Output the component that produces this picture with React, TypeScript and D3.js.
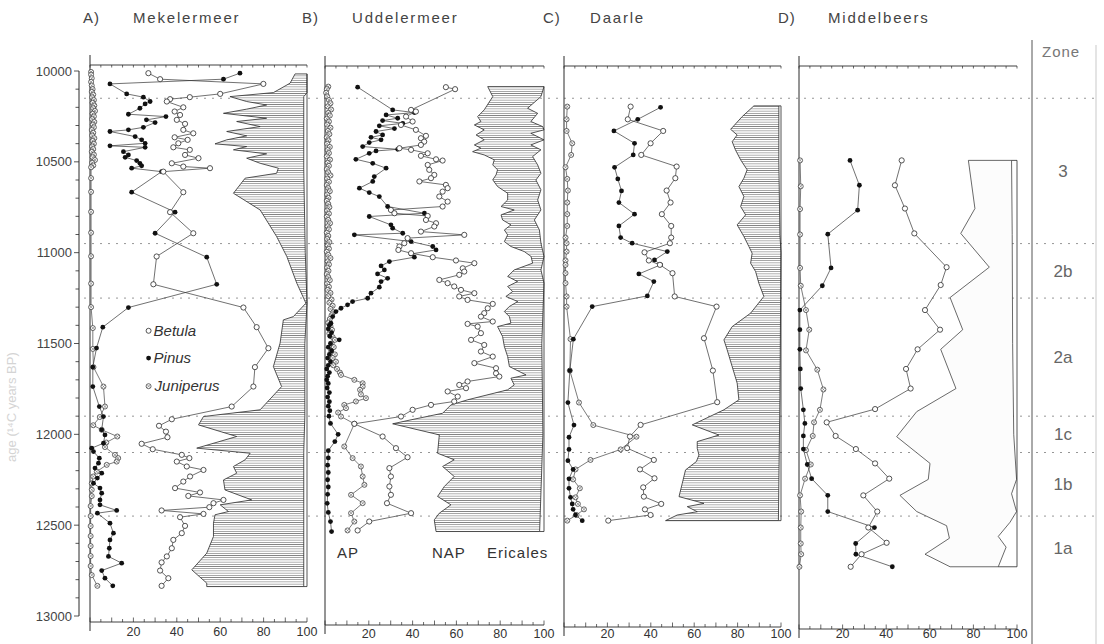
import React from 'react';
import * as d3 from 'd3';

type Pt = [number, number]; // [age 14C yr BP, percent]

const ageTicks = [10000, 10500, 11000, 11500, 12000, 12500, 13000];
const pctLabels = [20, 40, 60, 80, 100];
const zoneBounds = [10150, 10950, 11250, 11900, 12100, 12450, 12800];
const zoneNames = ['3', '2b', '2a', '1c', '1b', '1a'];

// A) Mekelermeer
const mekBetula: Pt[] = [[10012,26.9],[10045,32.3],[10071,79.9],[10126,60],[10144,46],[10155,36.9],[10168,35.4],[10200,43],[10223,39],[10242,41.5],[10269,40],[10291,43.8],[10324,43],[10343,47.6],[10365,39],[10379,45],[10398,40.7],[10420,38.4],[10434,46],[10462,43.8],[10480,50],[10508,37.7],[10526,43],[10535,55.3],[10554,33.8],[10667,43],[10777,36.9],[10893,47.6],[11021,30.7],[11174,29.2],[11302,70.7],[11410,76.8],[11526,82.2],[11630,76],[11737,75.3],[11847,65.3],[11917,37.7],[11953,31.8],[11985,35],[12016,35.7],[12052,23.8],[12082,28.9],[12113,42.3],[12131,45.8],[12150,40],[12177,44.6],[12196,52.3],[12232,46.1],[12260,43],[12296,39.2],[12320,50.7],[12339,45.3],[12361,61.5],[12379,56.9],[12401,55],[12419,33],[12438,52.3],[12456,41.5],[12504,43.8],[12544,42.3],[12581,38.4],[12627,37.7],[12672,35.4],[12705,33],[12750,32.3],[12792,36.1],[12834,33]];
const mekPinus: Pt[] = [[10012,69.1],[10045,61.5],[10071,9.2],[10126,16.9],[10144,24.6],[10168,27.7],[10181,25.4],[10205,23],[10238,17.7],[10251,35],[10269,26],[10284,30],[10310,24.6],[10324,17.7],[10333,9.2],[10361,20.8],[10379,23.8],[10398,25.4],[10412,9.2],[10420,25.4],[10444,15.4],[10462,17.7],[10475,16.2],[10493,21.5],[10508,23],[10522,23.8],[10535,19.2],[10554,33],[10667,19.2],[10777,39.2],[10893,30],[11025,53.8],[11174,58.4],[11302,17.7],[11410,5.9],[11525,3],[11630,1.3],[11737,1.3],[11847,4.3],[11902,6.2],[11975,5.4],[12003,6.9],[12049,6.2],[12076,0.8],[12095,1.6],[12131,4.3],[12159,3.9],[12186,2.3],[12214,5.4],[12241,3.4],[12269,1.6],[12296,4.6],[12324,5.4],[12361,4.6],[12388,4.6],[12419,12.3],[12434,3.4],[12489,9.2],[12544,10.8],[12581,9.2],[12627,8.9],[12672,8.5],[12709,14.6],[12750,5.4],[12792,6.9],[12834,10.5]];
const mekJuniperus: Pt[] = [[10005,0.5],[10020,0.5],[10040,0.8],[10060,0.5],[10080,0.8],[10100,1.2],[10115,0.8],[10130,1.5],[10145,1],[10160,1.8],[10175,1.2],[10190,2],[10205,1.5],[10220,2.3],[10235,1.2],[10250,1.8],[10265,1],[10280,2],[10295,1.3],[10310,1.8],[10325,0.8],[10340,1.5],[10355,1],[10370,2],[10385,1.2],[10400,1.8],[10415,1],[10430,1.5],[10445,0.8],[10460,1.8],[10475,1.2],[10490,2.3],[10505,1],[10520,1.5],[10530,0.5],[10590,0.5],[10665,0.5],[10775,0.5],[10890,0.5],[11020,0.5],[11170,0.5],[11300,0.5],[11415,1.3],[11530,1.3],[11630,1.6],[11737,6.2],[11847,6.9],[11905,4.5],[11950,1.5],[11975,5.4],[12012,12.6],[12045,7.5],[12070,6.9],[12113,11.5],[12131,13],[12150,12.3],[12168,7.7],[12205,3.1],[12232,1.5],[12270,0.8],[12305,0.8],[12340,0.8],[12395,0.3],[12450,0.3],[12505,0.3],[12560,0.3],[12615,0.3],[12670,0.3],[12725,0.3],[12775,0.8],[12834,3.4]];
const mekAP: Pt[] = [[10016,94.5],[10067,92.2],[10119,84.5],[10141,64.5],[10168,72.2],[10187,81.4],[10210,72.2],[10233,61.5],[10260,81.4],[10278,67.6],[10306,78.4],[10333,63],[10357,72.2],[10379,63],[10401,57.6],[10416,72.2],[10434,66.1],[10456,81.4],[10480,72.2],[10508,78.4],[10535,86.8],[10563,86],[10590,71.5],[10673,66.1],[10765,78.4],[10911,86],[11021,90.7],[11168,95.3],[11278,99.5],[11352,93.7],[11370,89.1],[11498,87.6],[11627,84.5],[11737,88.3],[11865,78.4],[11902,52.3],[11948,50],[12012,67.6],[12076,49.2],[12104,73.8],[12140,71.5],[12177,66.1],[12214,67.6],[12251,61.5],[12306,62.2],[12361,74.5],[12388,60],[12425,63.8],[12443,57.6],[12489,56.9],[12562,56.9],[12654,53.8],[12746,46.9],[12819,53.8],[12838,53.8]];
const mekEricales: Pt[] = [[10016,100],[10120,100],[10141,98.5],[10540,98.5],[11000,99.2],[11278,100],[11500,99],[11900,99],[12100,98.5],[12500,98.5],[12838,98.5]];

// B) Uddelermeer
const udBetula: Pt[] = [[10089,55.2],[10100,59.4],[10214,39.3],[10223,41.5],[10251,37],[10278,40],[10297,34.7],[10324,41.5],[10357,46.1],[10370,43.8],[10389,45.3],[10407,43.8],[10425,34],[10434,39.3],[10453,46.9],[10467,43.8],[10486,50.7],[10493,53.7],[10517,46.9],[10544,47.6],[10572,49.9],[10590,48.4],[10608,43.1],[10627,55.2],[10645,56],[10664,53.7],[10691,52.2],[10719,56],[10746,53.7],[10765,30.1],[10783,31.7],[10798,46.9],[10820,46.1],[10838,50.7],[10856,49.9],[10884,43.8],[10902,63.6],[10920,37.7],[10948,36.2],[10966,34],[10985,33.5],[11003,39.3],[11025,49.2],[11043,59.8],[11058,68.2],[11086,62.9],[11104,63.6],[11122,61.3],[11150,52.2],[11168,56],[11186,59],[11205,62.1],[11223,68.2],[11241,61.3],[11260,65.1],[11282,76.6],[11306,74.3],[11333,72.7],[11352,71.2],[11379,76.6],[11392,65.1],[11407,69.7],[11443,71.2],[11480,66.7],[11508,72.7],[11544,71.2],[11572,76.6],[11608,68.2],[11636,78.1],[11664,78.1],[11682,79.6],[11709,65.1],[11728,61.3],[11746,64.4],[11764,56],[11792,60.6],[11819,59],[11838,48.4],[11865,40],[11902,34.7],[11942,13.4],[12012,26.3],[12076,32.4],[12126,37.7],[12186,29.4],[12232,30.1],[12287,29.4],[12333,30.1],[12379,28.3],[12434,39.3],[12480,20.2],[12529,14.9]];
const udPinus: Pt[] = [[10089,14.9],[10214,30.9],[10229,40.8],[10242,27.9],[10260,33.2],[10273,26.3],[10288,35.5],[10302,24.8],[10317,31.7],[10333,23.3],[10352,26.3],[10365,21],[10379,25.6],[10394,20.2],[10416,17.2],[10431,33.2],[10440,23.3],[10453,20.2],[10486,14.1],[10508,21.8],[10535,27.9],[10581,22.5],[10608,21.8],[10645,15.7],[10669,20.2],[10691,24.8],[10746,28.6],[10783,45.4],[10801,20.2],[10847,30.1],[10865,30.9],[10893,35.5],[10902,13.4],[10939,39.3],[10966,49.2],[10985,50.7],[11007,39.3],[11025,40.8],[11049,29.4],[11073,25.6],[11095,27.1],[11117,24],[11141,28.6],[11159,25.6],[11190,24.8],[11223,21],[11251,19.5],[11269,12.6],[11287,10.3],[11306,7.3],[11324,5],[11352,3.5],[11388,2.7],[11400,2],[11420,1.5],[11440,3],[11460,2.2],[11480,6.5],[11500,2.5],[11520,1.5],[11540,3],[11560,2],[11580,1.2],[11600,2.5],[11620,1.5],[11640,0.8],[11660,2],[11680,1.2],[11700,0.8],[11720,1.5],[11745,1],[11770,2],[11795,1.2],[11820,2],[11845,1.5],[11870,2.2],[11900,1.8],[11940,2.5],[12000,6],[12040,4.5],[12090,1.5],[12130,1.5],[12170,1.2],[12210,1.5],[12250,1.2],[12290,1.5],[12330,1.2],[12380,1],[12430,1.5],[12480,2.5],[12535,3]];
const udJuniperus: Pt[] = [[10086,1.5],[10100,0.8],[10120,0.5],[10140,1],[10160,1.8],[10178,2.5],[10195,1.2],[10212,2.8],[10230,1.5],[10245,2.2],[10262,0.8],[10278,1.8],[10295,1],[10312,2.5],[10330,1.3],[10348,2],[10365,0.8],[10382,1.6],[10400,1],[10418,2.2],[10435,1.2],[10452,1.8],[10470,0.8],[10488,2.3],[10505,1.2],[10522,1.8],[10540,0.8],[10558,1.5],[10575,2.5],[10592,1],[10610,1.8],[10628,0.8],[10645,1.5],[10662,2.2],[10680,1],[10698,1.6],[10715,0.8],[10732,1.5],[10750,2],[10768,1],[10785,1.8],[10802,0.8],[10820,1.5],[10838,2.3],[10855,1.2],[10872,1.8],[10890,0.8],[10908,1.5],[10925,1],[10942,2],[10960,1.2],[10978,1.8],[10995,0.8],[11012,1.5],[11030,2.5],[11048,1.2],[11065,1.8],[11082,1],[11100,1.6],[11118,0.8],[11135,1.5],[11152,2.2],[11170,1],[11188,1.8],[11205,1.2],[11222,2.5],[11240,1.5],[11258,3],[11275,2],[11292,3.5],[11310,2.5],[11328,3.8],[11345,3],[11365,2.2],[11385,1.5],[11405,2.5],[11425,3.2],[11445,2],[11465,3.5],[11480,4.5],[11500,3],[11520,4],[11540,2.8],[11560,4.5],[11580,3.5],[11600,5],[11620,3.8],[11640,5.5],[11660,6.8],[11673,7.3],[11700,13.4],[11719,17.2],[11737,17.2],[11755,16],[11780,16.4],[11801,18.7],[11819,14.1],[11838,8.8],[11856,9.6],[11880,6],[11902,7.3],[11942,13.4],[12067,8.8],[12131,12.6],[12177,16.4],[12232,17.2],[12278,18],[12333,11.9],[12379,17.2],[12434,11.9],[12480,13.4],[12529,10.3]];
const udAP: Pt[] = [[10086,74.3],[10141,76.6],[10214,72.7],[10251,69.7],[10278,71.2],[10297,68.2],[10324,72.7],[10352,69],[10379,72.7],[10407,68.2],[10425,71.2],[10444,67.4],[10462,72.7],[10489,77.3],[10517,76.6],[10544,78.8],[10572,78.1],[10599,76.6],[10636,78.8],[10673,83.4],[10710,83.4],[10746,80.4],[10765,86.4],[10792,80.4],[10820,81.1],[10847,84.9],[10875,81.9],[10902,83.4],[10939,81.9],[10966,84.9],[10994,91],[11021,94.1],[11058,94.8],[11095,86.4],[11131,83.4],[11159,87.9],[11186,83.4],[11214,85.7],[11241,82.6],[11269,88],[11296,84.2],[11324,81.9],[11352,84.2],[11388,84.9],[11407,78.8],[11462,81.1],[11517,81.9],[11572,83.4],[11627,84.2],[11673,91.8],[11691,84.9],[11728,86.4],[11755,83.4],[11810,65.1],[11838,57.5],[11884,53.7],[11920,39.3],[11942,30.9],[12003,52.2],[12104,51.4],[12140,59],[12177,53.7],[12232,59],[12287,54.5],[12342,51.4],[12388,57.5],[12434,52.2],[12471,49.9],[12535,50.7]];
const udEricales: Pt[] = [[10086,100],[10141,98.6],[10205,92.5],[10233,97.1],[10278,94],[10306,99.4],[10324,100],[10343,94],[10379,100],[10407,94],[10434,98.6],[10471,94.8],[10517,97.1],[10563,98.6],[10600,96.3],[10654,98.6],[10710,97.1],[10765,98.6],[10820,95.6],[10875,97.9],[10948,98.6],[11021,100],[11095,98.6],[11168,100],[11500,99],[12000,99.5],[12535,98]];

// C) Daarle
const daBetula: Pt[] = [[10196,30.7],[10266,29.4],[10330,45.7],[10398,39.9],[10462,35.6],[10526,51.9],[10590,51.3],[10658,47.3],[10724,49.1],[10788,45.1],[10853,49.4],[10917,49.4],[10948,48.8],[10998,37.1],[11043,39.1],[11067,44.2],[11113,50],[11241,51],[11297,70.3],[11471,64.5],[11649,68.6],[11823,70.6],[11948,35.3],[12012,30.4],[12076,29.1],[12141,41.4],[12193,35],[12242,41.7],[12292,36.5],[12343,36.8],[12383,44.8],[12413,37.3],[12444,39.9],[12475,20.4]];
const daPinus: Pt[] = [[10200,44.5],[10266,34],[10330,23],[10398,32.5],[10462,31.9],[10530,23.3],[10594,24.8],[10660,26.5],[10724,25.3],[10788,32.5],[10853,25.3],[10917,26.1],[10948,31.4],[10994,47.6],[11040,41.7],[11067,44.5],[11117,34.5],[11159,41.4],[11238,38.4],[11297,13],[11476,4.3],[11649,2.7],[11825,1.8],[11949,4.6],[12016,2.3],[12083,2.3],[12145,1.8],[12193,4.2],[12245,2.3],[12297,2.3],[12347,3],[12383,3.8],[12413,4.2],[12444,5.3],[12475,8.4]];
const daJuniperus: Pt[] = [[10196,1.5],[10266,1.2],[10330,1.2],[10398,3.8],[10462,3.3],[10530,0.7],[10594,1.5],[10658,1.8],[10724,1.5],[10788,1.5],[10853,1.5],[10917,0.7],[10948,1.2],[10994,1.2],[11043,0.7],[11067,0.7],[11113,0.7],[11168,0.7],[11241,1.2],[11297,1.2],[11476,3],[11649,2.7],[11825,6.9],[11949,13.5],[12013,33.4],[12083,26.1],[12141,12.2],[12193,5.3],[12248,4.2],[12297,7.3],[12347,5.3],[12383,6.4],[12413,9.2],[12444,5.8],[12475,1.5]];
const daAP: Pt[] = [[10192,87.5],[10251,82.1],[10321,76.8],[10352,79.8],[10389,77.5],[10434,79],[10489,81.4],[10544,84.4],[10590,82.9],[10636,80.6],[10691,82.9],[10746,81.4],[10792,83.7],[10847,79.8],[10911,82.9],[10966,85.2],[11003,86.7],[11058,86],[11104,88.3],[11168,89.8],[11241,92.1],[11333,86],[11407,77.5],[11480,73.7],[11535,75.2],[11627,77.5],[11718,79.8],[11810,80.6],[11865,73.7],[11948,59.1],[12004,71.4],[12040,61.4],[12077,61.4],[12114,62.2],[12150,61],[12196,56],[12270,54.5],[12343,53],[12380,64.5],[12398,56.8],[12426,61.4],[12444,52.2],[12475,46.8]];
const daEricales: Pt[] = [[10192,99],[10500,99],[10900,99.5],[11000,100],[11800,99.5],[12475,98.8]];

// D) Middelbeers
const miBetula: Pt[] = [[10492,47.1],[10629,44],[10757,48.6],[10894,52.9],[11080,67.7],[11178,65],[11316,57.8],[11424,64.7],[11532,54.4],[11640,49.1],[11748,51.2],[11861,34.9],[11934,12.7],[12009,16.8],[12081,26.1],[12160,34.9],[12244,41.4],[12336,29.5],[12425,35.9],[12513,31.8],[12597,40.2],[12660,28.7],[12729,23.7]];
const miPinus: Pt[] = [[10492,23.4],[10629,27.7],[10766,26.9],[10898,13.2],[11084,14.7],[11182,10.7],[11316,0.4],[11424,0.4],[11532,0.4],[11640,0.6],[11748,0.8],[11865,2],[11940,2.7],[12009,2],[12081,2],[12166,3.8],[12244,5.8],[12336,13.2],[12425,13.2],[12513,34.6],[12601,26],[12660,26.1],[12729,42.8]];
const miJuniperus: Pt[] = [[10492,0.5],[10635,0.8],[10760,0.5],[10900,0.5],[11084,0.5],[11182,0.8],[11316,3.2],[11424,4.7],[11538,3.2],[11644,8.4],[11753,11.2],[11865,9.6],[11934,6.9],[12009,6.3],[12087,3.2],[12166,5.4],[12244,2.8],[12336,0.5],[12425,1],[12513,0.8],[12601,0.8],[12660,1],[12729,0.2]];
const miAP: Pt[] = [[10492,77.7],[10757,80.7],[10894,74.2],[11080,87.3],[11247,69.3],[11424,75.1],[11532,65],[11748,72],[11875,54],[12013,44.8],[12160,60.1],[12248,59.3],[12336,46.3],[12425,54],[12503,67.7],[12572,69],[12660,57.8],[12729,69.3]];
const miEricales: Pt[] = [[10492,97.5],[10900,97.8],[11500,98],[12000,98.5],[12248,99.8],[12327,97.5],[12425,99.8],[12484,96.8],[12562,91.4],[12621,95],[12729,91.4]];

const panels = [
  { letter: 'A)', name: 'Mekelermeer', lx: 83, nx: 133, x0: 90, x1: 307, top: 65, bottom: 622, hatch: true,
    betula: mekBetula, pinus: mekPinus, juniperus: mekJuniperus, ap: mekAP, eric: mekEricales },
  { letter: 'B)', name: 'Uddelermeer', lx: 302, nx: 352, x0: 325, x1: 544, top: 66, bottom: 625, hatch: true,
    betula: udBetula, pinus: udPinus, juniperus: udJuniperus, ap: udAP, eric: udEricales },
  { letter: 'C)', name: 'Daarle', lx: 543, nx: 590, x0: 564, x1: 781, top: 66, bottom: 627, hatch: true,
    betula: daBetula, pinus: daPinus, juniperus: daJuniperus, ap: daAP, eric: daEricales },
  { letter: 'D)', name: 'Middelbeers', lx: 778, nx: 828, x0: 799, x1: 1017, top: 66, bottom: 629, hatch: false,
    betula: miBetula, pinus: miPinus, juniperus: miJuniperus, ap: miAP, eric: miEricales },
];

const font = '"Liberation Sans", Arial, sans-serif';
const ink = '#2a2a2a';

const y = d3.scaleLinear().domain([10000, 13000]).range([71, 616]);

function Juni({ cx, cy }: { cx: number; cy: number }) {
  const r = 2.5, k = 1.6;
  return (
    <g>
      <circle cx={cx} cy={cy} r={r} fill="#fff" stroke={ink} strokeWidth={0.7} />
      <path d={`M${cx - k},${cy - k}L${cx + k},${cy + k}M${cx - k},${cy + k}L${cx + k},${cy - k}`} stroke="#666" strokeWidth={0.6} />
    </g>
  );
}

function Panel({ p }: { p: typeof panels[number] }) {
  const x = d3.scaleLinear().domain([0, 100]).range([p.x0, p.x1]);
  const line = d3.line<Pt>().x(d => x(d[1])).y(d => y(d[0]));
  const poly = line([...p.ap, ...[...p.eric].reverse()]) + 'Z';
  const topAge = p.ap[0][0];
  const botAge = p.ap[p.ap.length - 1][0];
  const edge = `M${x(p.eric[0][1])},${y(topAge)}H${x(100)}V${y(botAge)}H${x(p.eric[p.eric.length - 1][1])}`;
  const ticks = d3.range(0, 101, 5);
  return (
    <g>
      <text x={p.lx} y={23} fontSize={15} fill="#444" fontFamily={font} letterSpacing={1}>{p.letter}</text>
      <text x={p.nx} y={23} fontSize={15} fill="#444" fontFamily={font} letterSpacing={1.8}>{p.name}</text>
      {/* left vertical axis */}
      <line x1={x(0)} x2={x(0)} y1={p.top - 10} y2={p.bottom + 9} stroke={ink} strokeWidth={1} />
      {/* top axis */}
      <line x1={x(0)} x2={x(100)} y1={p.top} y2={p.top} stroke={ink} strokeWidth={0.9} />
      {ticks.map(t => (
        <line key={'t' + t} x1={x(t)} x2={x(t)} y1={p.top} y2={p.top + 2.5} stroke={ink} strokeWidth={0.7} />
      ))}
      {/* bottom axis */}
      <line x1={x(0)} x2={x(100)} y1={p.bottom} y2={p.bottom} stroke={ink} strokeWidth={0.9} />
      {ticks.map(t => (
        <line key={'b' + t} x1={x(t)} x2={x(t)} y1={p.bottom} y2={p.bottom - (t % 10 === 0 ? 4.5 : 3)} stroke={ink} strokeWidth={0.7} />
      ))}
      {pctLabels.map(t => (
        <text key={'l' + t} x={x(t)} y={Math.min(p.bottom + 14, 638)} fontSize={12.5} fill="#333" fontFamily={font} textAnchor="middle">{t}</text>
      ))}
      {/* NAP / Ericales area */}
      <path d={poly} fill={p.hatch ? 'url(#hatch)' : '#fcfcfc'} stroke={ink} strokeWidth={p.hatch ? 0.8 : 0.7} />
      <path d={edge} fill="none" stroke={ink} strokeWidth={0.8} />
      {/* curves */}
      <path d={line(p.juniperus) || ''} fill="none" stroke="#444" strokeWidth={0.7} />
      <path d={line(p.pinus) || ''} fill="none" stroke="#333" strokeWidth={0.7} />
      <path d={line(p.betula) || ''} fill="none" stroke="#333" strokeWidth={0.7} />
      {p.juniperus.map((d, i) => <Juni key={'j' + i} cx={x(d[1])} cy={y(d[0])} />)}
      {p.pinus.map((d, i) => <circle key={'p' + i} cx={x(d[1])} cy={y(d[0])} r={2.4} fill="#111" />)}
      {p.betula.map((d, i) => (
        <circle key={'o' + i} cx={x(d[1])} cy={y(d[0])} r={2.6} fill="#fff" stroke={ink} strokeWidth={0.8} />
      ))}
    </g>
  );
}

export default function App() {
  const minor = d3.range(10000, 13001, 100);
  const zoneMid = zoneNames.map((z, i) => ({ z, age: (zoneBounds[i] + zoneBounds[i + 1]) / 2 }));
  const legendX = d3.scaleLinear().domain([0, 100]).range([90, 307])(27);
  return (
    <div style={{ position: 'fixed', left: 0, top: 0 }}>
      <svg width={1104} height={644} style={{ display: 'block', background: '#fff' }}>
        <defs>
          <pattern id="hatch" width={4} height={2.2} patternUnits="userSpaceOnUse">
            <rect width={4} height={2.2} fill="#fff" />
            <line x1={0} x2={4} y1={1.1} y2={1.1} stroke="#6a6a6a" strokeWidth={0.7} />
          </pattern>
        </defs>

        {/* age axis */}
        <text transform={`translate(16,${y(11850)}) rotate(-90)`} fontSize={13} fill="#d4d4d4" fontFamily={font} textAnchor="middle">age (¹⁴C years BP)</text>
        <line x1={79} x2={79} y1={y(10000)} y2={y(13000)} stroke={ink} strokeWidth={1} />
        {minor.map(a => (
          <line key={a} x1={79} x2={a % 500 === 0 ? 74 : 75.5} y1={y(a)} y2={y(a)} stroke={ink} strokeWidth={0.8} />
        ))}
        {ageTicks.map(a => (
          <text key={a} x={72} y={y(a) + 4.5} fontSize={13} fill="#444" fontFamily={font} textAnchor="end">{a}</text>
        ))}

        {/* zone boundaries */}
        {zoneBounds.slice(0, -1).map(a => (
          <line key={a} x1={84} x2={1094} y1={y(a)} y2={y(a)} stroke="#8a8a8a" strokeWidth={0.9} strokeDasharray="2 6" />
        ))}

        {panels.map(p => <Panel key={p.name} p={p} />)}

        {/* legend in panel A */}
        <g fontFamily={font} fontStyle="italic" fontSize={15} fill="#333">
          <circle cx={legendX} cy={y(11430)} r={2.5} fill="#fff" stroke={ink} strokeWidth={0.8} />
          <text x={legendX + 5} y={y(11430) + 5}>Betula</text>
          <circle cx={legendX} cy={y(11580)} r={2.4} fill="#111" />
          <text x={legendX + 5} y={y(11580) + 5}>Pinus</text>
          <Juni cx={legendX} cy={y(11735)} />
          <text x={legendX + 6} y={y(11735) + 5}>Juniperus</text>
        </g>

        {/* curve labels in panel B */}
        <g fontFamily={font} fontSize={15} fill="#333" letterSpacing={1}>
          <text x={337} y={558}>AP</text>
          <text x={432} y={558}>NAP</text>
          <text x={487} y={558}>Ericales</text>
        </g>

        {/* zone column */}
        <line x1={1032} x2={1032} y1={40} y2={644} stroke="#555" strokeWidth={1} />
        <line x1={1096} x2={1096} y1={45} y2={644} stroke="#bbb" strokeWidth={0.8} />
        <text x={1042} y={57} fontSize={15} fill="#777" fontFamily={font} letterSpacing={1}>Zone</text>
        {zoneMid.map(d => (
          <text key={d.z} x={1063} y={y(d.age) + 6} fontSize={17} fill="#666" fontFamily={font} textAnchor="middle">{d.z}</text>
        ))}
      </svg>
    </div>
  );
}
